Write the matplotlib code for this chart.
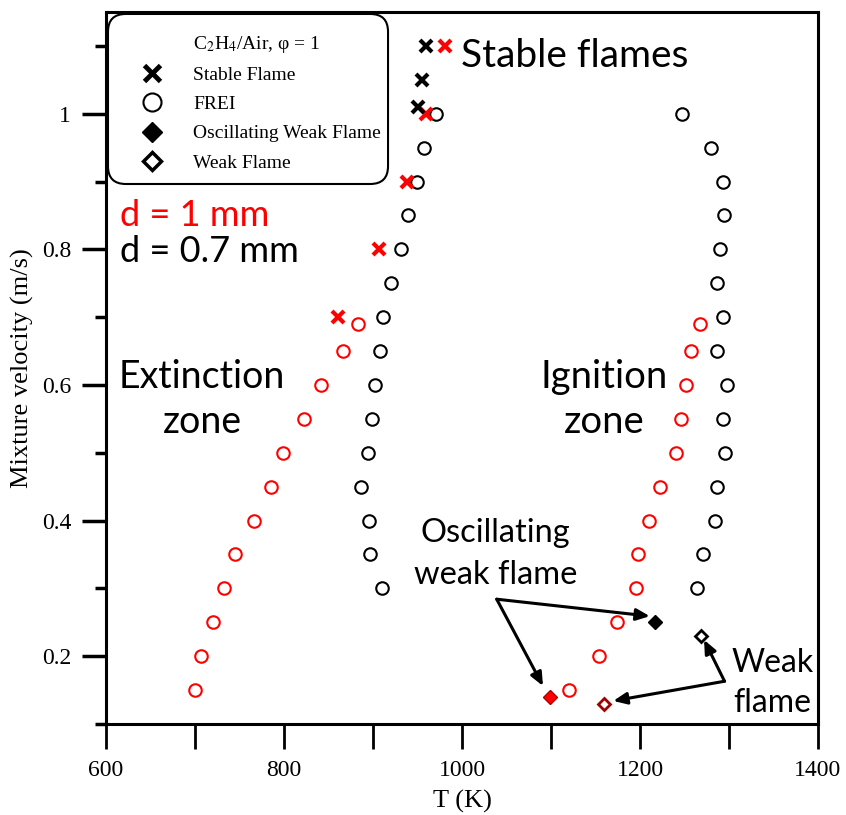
import matplotlib
matplotlib.use('Agg')
import matplotlib.pyplot as plt
from matplotlib.lines import Line2D
from matplotlib.patches import FancyBboxPatch
from matplotlib.ticker import MultipleLocator

plt.rcParams['font.family'] = ['Liberation Serif', 'DejaVu Serif']
plt.rcParams['mathtext.fontset'] = 'stix'

# d = 1 mm (red) FREI points
v_red_ext = [0.69, 0.65, 0.6, 0.55, 0.5, 0.45, 0.4, 0.35, 0.3, 0.25, 0.2, 0.15]
T_red_ext = [883, 866, 842, 822, 799, 785, 766, 745, 733, 720, 707, 700]
v_red_ign = [0.69, 0.65, 0.6, 0.55, 0.5, 0.45, 0.4, 0.35, 0.3, 0.25, 0.2, 0.15]
T_red_ign = [1267, 1257, 1252, 1246, 1241, 1223, 1210, 1198, 1195, 1174, 1154, 1120]

# d = 0.7 mm (black) FREI points
v_blk_ext = [1.0, 0.95, 0.9, 0.85, 0.8, 0.75, 0.7, 0.65, 0.6, 0.55, 0.5, 0.45, 0.4, 0.35, 0.3]
T_blk_ext = [971, 957, 949, 939, 931, 920, 911, 908, 902, 899, 894, 887, 895, 897, 910]
v_blk_ign = [1.0, 0.95, 0.9, 0.85, 0.8, 0.75, 0.7, 0.65, 0.6, 0.55, 0.5, 0.45, 0.4, 0.35, 0.3]
T_blk_ign = [1247, 1280, 1293, 1294, 1290, 1286, 1293, 1286, 1298, 1293, 1296, 1287, 1284, 1271, 1264]

# stable flames
v_red_stable = [1.1, 1.0, 0.9, 0.8, 0.7]
T_red_stable = [981, 960, 938, 907, 861]
v_blk_stable = [1.1, 1.05, 1.01]
T_blk_stable = [960, 955, 951]

# oscillating weak flame / weak flame
T_osc_blk, v_osc_blk = [1217], [0.25]
T_osc_red, v_osc_red = [1099], [0.14]
T_weak_blk, v_weak_blk = [1269], [0.23]
T_weak_red, v_weak_red = [1160], [0.13]

RED = '#ff0000'

fig = plt.figure(figsize=(8.46, 8.15), dpi=100)
ax = fig.add_axes([0.1253, 0.1117, 0.8416, 0.8736])

ax.plot(T_red_ext, v_red_ext, 'o', ms=9, mfc='none', mec=RED, mew=1.5, ls='none')
ax.plot(T_red_ign, v_red_ign, 'o', ms=9, mfc='none', mec=RED, mew=1.5, ls='none')
ax.plot(T_blk_ext, v_blk_ext, 'o', ms=9, mfc='none', mec='black', mew=1.5, ls='none')
ax.plot(T_blk_ign, v_blk_ign, 'o', ms=9, mfc='none', mec='black', mew=1.5, ls='none')
ax.plot(T_red_stable, v_red_stable, 'x', ms=8, mec=RED, mew=3, ls='none')
ax.plot(T_blk_stable, v_blk_stable, 'x', ms=8, mec='black', mew=3, ls='none')
ax.plot(T_osc_blk, v_osc_blk, 'D', ms=7, mfc='black', mec='black', ls='none')
ax.plot(T_osc_red, v_osc_red, 'D', ms=7, mfc=RED, mec='#b00000', mew=1, ls='none')
ax.plot(T_weak_blk, v_weak_blk, 'D', ms=6, mfc='white', mec='black', mew=2, ls='none')
ax.plot(T_weak_red, v_weak_red, 'D', ms=6, mfc='white', mec='#a00000', mew=2, ls='none')

ax.set_xlim(600, 1400)
ax.set_ylim(0.1, 1.15)
ax.xaxis.set_major_locator(MultipleLocator(200))
ax.xaxis.set_minor_locator(MultipleLocator(100))
ax.yaxis.set_minor_locator(MultipleLocator(0.1))
ax.set_yticks([0.2, 0.4, 0.6, 0.8, 1.0])
ax.set_yticklabels(['0.2', '0.4', '0.6', '0.8', '1'])
ax.tick_params(axis='x', which='both', direction='out', length=18, width=2, labelsize=17, pad=8)
ax.tick_params(axis='y', which='major', direction='out', length=17, width=2.5, labelsize=17, pad=8)
ax.tick_params(axis='y', which='minor', direction='out', length=8, width=2.5)
for s in ax.spines.values():
    s.set_linewidth(2.2)

ax.set_xlabel('T (K)', fontsize=19, labelpad=6)
ax.set_ylabel('Mixture velocity (m/s)', fontsize=19, labelpad=6)

# annotations
sans = 'Lato'
ax.text(1127, 1.085, 'Stable flames', fontsize=28, family=sans, ha='center', va='center')
ax.text(616, 0.834, 'd = 1 mm', fontsize=26, family=sans, color=RED, va='baseline')
ax.text(616, 0.781, 'd = 0.7 mm', fontsize=26, family=sans, va='baseline')
ax.text(708, 0.596, 'Extinction', fontsize=27, family=sans, ha='center', va='baseline')
ax.text(708, 0.529, 'zone', fontsize=27, family=sans, ha='center', va='baseline')
ax.text(1160, 0.596, 'Ignition', fontsize=27.5, family=sans, ha='center', va='baseline')
ax.text(1160, 0.529, 'zone', fontsize=27.5, family=sans, ha='center', va='baseline')
ax.text(1037, 0.368, 'Oscillating', fontsize=23.5, family=sans, ha='center', va='baseline')
ax.text(1038, 0.306, 'weak flame', fontsize=23.5, family=sans, ha='center', va='baseline')
ax.text(1349, 0.176, 'Weak', fontsize=23, family=sans, ha='center', va='baseline')
ax.text(1349, 0.118, 'flame', fontsize=23, family=sans, ha='center', va='baseline')

arrow = dict(arrowstyle='-|>,head_length=0.8,head_width=0.35', color='black', lw=2.2, shrinkA=0, shrinkB=0)
ax.annotate('', xy=(1211, 0.259), xytext=(1039, 0.284), arrowprops=arrow)
ax.annotate('', xy=(1091, 0.156), xytext=(1039, 0.284), arrowprops=arrow)
ax.annotate('', xy=(1272, 0.224), xytext=(1295, 0.163), arrowprops=arrow)
ax.annotate('', xy=(1170, 0.134), xytext=(1295, 0.163), arrowprops=arrow)

# legend (rounded frame drawn separately)
handles = [
    Line2D([], [], ls='none', marker=None),
    Line2D([], [], ls='none', marker='x', ms=11, mec='black', mew=3.5),
    Line2D([], [], ls='none', marker='o', ms=13, mfc='none', mec='black', mew=1.5),
    Line2D([], [], ls='none', marker='D', ms=10, mfc='black', mec='black'),
    Line2D([], [], ls='none', marker='D', ms=9, mfc='white', mec='black', mew=2.5),
]
labels = ['C$_2$H$_4$/Air, φ = 1', 'Stable Flame', 'FREI', 'Oscillating Weak Flame', 'Weak Flame']
leg = ax.legend(handles, labels, loc='upper left', bbox_to_anchor=(0.002, 0.9846),
                fontsize=14, frameon=False, borderpad=0.55,
                handlelength=3.5, handletextpad=0.35, labelspacing=0.6, borderaxespad=0)
box = FancyBboxPatch((0.0028, 0.7584), 0.3933, 0.2388, boxstyle='round,pad=0,rounding_size=0.025',
                     transform=ax.transAxes, facecolor='white', edgecolor='black', lw=1.5, zorder=4.5)
ax.add_patch(box)
leg.set_zorder(5)

fig.savefig('out.png', dpi=100)
